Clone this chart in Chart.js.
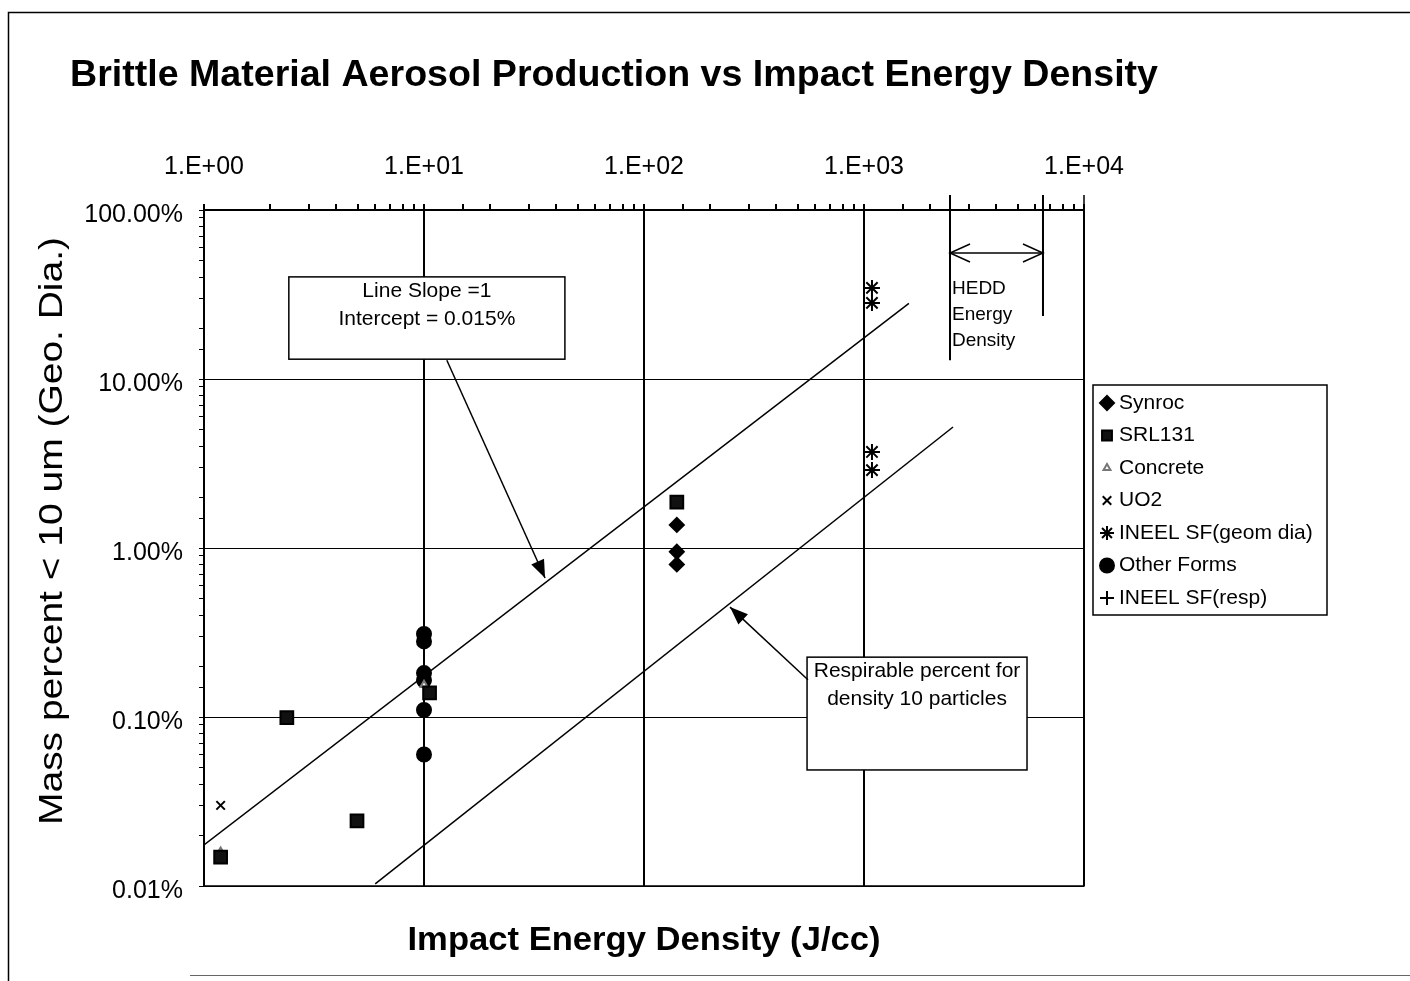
<!DOCTYPE html>
<html>
<head>
<meta charset="utf-8">
<script src="https://cdn.jsdelivr.net/npm/chart.js@4.4.1/dist/chart.umd.min.js"></script>
<style>
  html, body { margin: 0; padding: 0; background: #fff; }
  #wrap { width: 1410px; height: 981px; position: relative; }
</style>
</head>
<body>
<div id="wrap"><canvas id="myChart" width="1410" height="981"></canvas></div>
<script>
// data (x = J/cc, y = mass percent)
let synrocX = [141, 141, 141];
let synrocY = [1.37, 0.95, 0.80];
let srlX = [1.19, 2.38, 4.96, 10.6, 141];
let srlY = [0.0148, 0.099, 0.0243, 0.139, 1.87];
let concreteX = [1.19, 10];
let concreteY = [0.016, 0.155];
let uo2X = [1.19];
let uo2Y = [0.030];
let ineelGeomX = [1087, 1087, 1087, 1087];
let ineelGeomY = [34.6, 28.2, 3.70, 2.89];
let otherX = [10, 10, 10, 10, 10, 10];
let otherY = [0.31, 0.28, 0.182, 0.165, 0.11, 0.06];
let ineelRespX = [];
let ineelRespY = [];

// the two slope-1 lines
let slopeLineX = [1, 1600];
let slopeLineY = [0.0175, 28];
let respLineX = [6.0, 2540];
let respLineY = [0.0103, 5.2];

let legendNames = ["Synroc", "SRL131", "Concrete", "UO2", "INEEL SF(geom dia)", "Other Forms", "INEEL SF(resp)"];
let xMin = 1, xMax = 10000;
let yMin = 0.01, yMax = 100;

function pts(xs, ys) {
    let out = [];
    for (let i = 0; i < xs.length; i++) out.push({ x: xs[i], y: ys[i] });
    return out;
}

function isDecade(v) {
    let l = Math.log10(v);
    return Math.abs(l - Math.round(l)) < 1e-6;
}

const FONT = "'Liberation Sans', Arial, sans-serif";

// draws text stretched to a given width (scan letters are wider than Arial)
function fillFit(ctx, text, x, y, w) {
    let m = ctx.measureText(text).width;
    ctx.save();
    ctx.translate(x, y);
    ctx.scale(w / m, 1);
    ctx.fillText(text, 0, 0);
    ctx.restore();
}

let markers = [
    { style: 'rectRot', radius: 7, bg: '#000', border: '#000' },
    { style: 'rect', radius: 9, bg: '#111', border: '#000' },
    { style: 'triangle', radius: 4, bg: '#fff', border: '#777' },
    { style: 'crossRot', radius: 6, bg: '#000', border: '#000' },
    { style: 'star', radius: 8, bg: '#000', border: '#000' },
    { style: 'circle', radius: 7, bg: '#000', border: '#000' },
    { style: 'cross', radius: 7, bg: '#000', border: '#000' }
];

let seriesData = [
    pts(synrocX, synrocY), pts(srlX, srlY), pts(concreteX, concreteY), pts(uo2X, uo2Y),
    pts(ineelGeomX, ineelGeomY), pts(otherX, otherY), pts(ineelRespX, ineelRespY)
];

let datasets = [];
for (let i = 0; i < legendNames.length; i++) {
    datasets.push({
        label: legendNames[i],
        data: seriesData[i],
        pointStyle: markers[i].style,
        pointRadius: markers[i].radius,
        pointBackgroundColor: markers[i].bg,
        pointBorderColor: markers[i].border,
        pointBorderWidth: 2,
        showLine: false
    });
}
datasets.push({ label: 'slope', data: pts(slopeLineX, slopeLineY), showLine: true, pointRadius: 0, borderColor: '#000', borderWidth: 1.5 });
datasets.push({ label: 'resp', data: pts(respLineX, respLineY), showLine: true, pointRadius: 0, borderColor: '#000', borderWidth: 1.5 });

// annotation positions in data units
let box1 = { x1: 2.43, x2: 43.7, y1: 40.2, y2: 13.1, lines: ["Line Slope =1", "Intercept = 0.015%"] };
let arrow1 = { x1: 12.7, y1: 12.9, x2: 35.5, y2: 0.664 };
let box2 = { x1: 551, x2: 5508, y1: 0.226, y2: 0.0486, lines: ["Respirable percent for", "density 10 particles"] };
let arrow2 = { x1: 556, y1: 0.166, x2: 246, y2: 0.447 };
let hedd = { xa: 2460, xb: 6510, ya: 12.9, yb: 23.6, yArrow: 55.7, text: ["HEDD", "Energy", "Density"] };

function arrowHead(ctx, x1, y1, x2, y2, len, wid, filled) {
    let a = Math.atan2(y2 - y1, x2 - x1);
    let bx = x2 - len * Math.cos(a), by = y2 - len * Math.sin(a);
    let px = -Math.sin(a) * wid, py = Math.cos(a) * wid;
    ctx.beginPath();
    ctx.moveTo(bx + px, by + py);
    ctx.lineTo(x2, y2);
    ctx.lineTo(bx - px, by - py);
    if (filled) { ctx.closePath(); ctx.fill(); } else ctx.stroke();
}

let extras = {
    id: 'extras',
    beforeDraw(chart) {
        let ctx = chart.ctx;
        ctx.save();
        ctx.fillStyle = '#fff';
        ctx.fillRect(0, 0, chart.width, chart.height);
        ctx.strokeStyle = '#000';
        ctx.lineWidth = 1.5;
        ctx.beginPath();
        ctx.moveTo(8.5, 981); ctx.lineTo(8.5, 12.5); ctx.lineTo(1410, 12.5);
        ctx.stroke();
        ctx.strokeStyle = '#666';
        ctx.lineWidth = 1;
        ctx.beginPath();
        ctx.moveTo(190, 975.5); ctx.lineTo(1410, 975.5);
        ctx.stroke();
        ctx.restore();
    },
    afterDraw(chart) {
        let ctx = chart.ctx;
        let xs = chart.scales.x, ys = chart.scales.y;
        let a = chart.chartArea;
        let X = v => xs.getPixelForValue(v);
        let Y = v => ys.getPixelForValue(v);
        ctx.save();
        ctx.strokeStyle = '#000';
        ctx.fillStyle = '#000';

        // right and bottom frame of the plot
        ctx.lineWidth = 1.5;
        ctx.beginPath();
        ctx.moveTo(a.right, a.top - 15); ctx.lineTo(a.right, a.bottom); ctx.lineTo(a.left, a.bottom);
        ctx.stroke();

        // title
        ctx.font = "bold 37px " + FONT;
        ctx.textAlign = 'left';
        ctx.textBaseline = 'middle';
        fillFit(ctx, "Brittle Material Aerosol Production vs Impact Energy Density", 70, 76, 1088);

        // axis titles
        ctx.font = "bold 34px " + FONT;
        ctx.textAlign = 'center';
        fillFit(ctx, "Impact Energy Density (J/cc)", 644, 941, 473);
        ctx.save();
        ctx.translate(53, 531);
        ctx.rotate(-Math.PI / 2);
        ctx.font = "34px " + FONT;
        fillFit(ctx, "Mass percent < 10 um (Geo. Dia.)", 0, 0, 588);
        ctx.restore();

        // annotation boxes
        ctx.font = "21px " + FONT;
        [box1, box2].forEach(function (b) {
            let l = X(b.x1), r = X(b.x2), t = Y(b.y1), btm = Y(b.y2);
            ctx.fillStyle = '#fff';
            ctx.fillRect(l, t, r - l, btm - t);
            ctx.lineWidth = 1.5;
            ctx.strokeRect(l, t, r - l, btm - t);
            ctx.fillStyle = '#000';
            ctx.textAlign = 'center';
            for (let i = 0; i < b.lines.length; i++) {
                ctx.fillText(b.lines[i], (l + r) / 2, t + 14 + i * 28);
            }
        });

        // arrows from the boxes
        ctx.lineWidth = 1.5;
        [arrow1, arrow2].forEach(function (ar) {
            let x1 = X(ar.x1), y1 = Y(ar.y1), x2 = X(ar.x2), y2 = Y(ar.y2);
            ctx.beginPath(); ctx.moveTo(x1, y1); ctx.lineTo(x2, y2); ctx.stroke();
            arrowHead(ctx, x1, y1, x2, y2, 18, 7, true);
        });

        // HEDD range
        let ha = X(hedd.xa), hb = X(hedd.xb), hy = Y(hedd.yArrow);
        ctx.lineWidth = 2;
        ctx.beginPath();
        ctx.moveTo(ha, a.top - 15); ctx.lineTo(ha, Y(hedd.ya));
        ctx.moveTo(hb, a.top - 15); ctx.lineTo(hb, Y(hedd.yb));
        ctx.stroke();
        ctx.lineWidth = 1.5;
        ctx.beginPath(); ctx.moveTo(ha, hy); ctx.lineTo(hb, hy); ctx.stroke();
        arrowHead(ctx, hb, hy, ha, hy, 20, 9, false);
        arrowHead(ctx, ha, hy, hb, hy, 20, 9, false);
        ctx.font = "19px " + FONT;
        ctx.textAlign = 'left';
        for (let i = 0; i < hedd.text.length; i++) {
            ctx.fillText(hedd.text[i], ha + 2, hy + 36 + i * 26);
        }

        // legend
        let lx = 1093, ly = 385, lw = 234, lh = 230;
        ctx.lineWidth = 1.5;
        ctx.strokeRect(lx, ly, lw, lh);
        ctx.font = "21px " + FONT;
        ctx.textAlign = 'left';
        for (let i = 0; i < legendNames.length; i++) {
            let cy = ly + 18 + i * 32.5;
            let m = markers[i];
            ctx.fillStyle = m.bg;
            ctx.strokeStyle = m.border;
            ctx.lineWidth = 2;
            Chart.helpers.drawPoint(ctx, { pointStyle: m.style, radius: Math.min(m.radius, 7), rotation: 0, borderWidth: 2 }, lx + 14, cy);
            ctx.fillStyle = '#000';
            ctx.fillText(legendNames[i], lx + 26, cy);
        }
        ctx.restore();
    }
};

new Chart("myChart", {
    type: 'scatter',
    data: { datasets: datasets },
    plugins: [extras],
    options: {
        responsive: false,
        animation: false,
        layout: { padding: { left: 0, top: 0, right: 326, bottom: 95 } },
        plugins: {
            legend: { display: false },
            tooltip: { enabled: false },
            title: { display: false }
        },
        scales: {
            x: {
                type: 'logarithmic',
                position: 'top',
                min: xMin,
                max: xMax,
                afterFit: function (s) { s.height = 210; },
                border: { display: true, color: '#000', width: 1.5 },
                grid: {
                    color: c => isDecade(c.tick.value) ? '#000' : 'rgba(0,0,0,0)',
                    lineWidth: 2,
                    tickColor: '#000',
                    tickLength: 6
                },
                ticks: {
                    autoSkip: false,
                    maxRotation: 0,
                    padding: 22,
                    color: '#000',
                    font: { family: FONT, size: 25 },
                    callback: function (v) {
                        if (!isDecade(v)) return '';
                        let e = Math.round(Math.log10(v));
                        return '1.E+' + (e < 10 ? '0' + e : e);
                    }
                }
            },
            y: {
                type: 'logarithmic',
                min: yMin,
                max: yMax,
                afterFit: function (s) { s.width = 204; },
                border: { display: true, color: '#000', width: 1.5 },
                grid: {
                    color: c => isDecade(c.tick.value) ? '#000' : 'rgba(0,0,0,0)',
                    lineWidth: 1,
                    tickColor: '#000',
                    tickLength: 5
                },
                ticks: {
                    autoSkip: false,
                    padding: 16,
                    labelOffset: 5,
                    color: '#000',
                    font: { family: FONT, size: 25 },
                    callback: function (v) {
                        return isDecade(v) ? v.toFixed(2) + '%' : '';
                    }
                }
            }
        }
    }
});
</script>
</body>
</html>
